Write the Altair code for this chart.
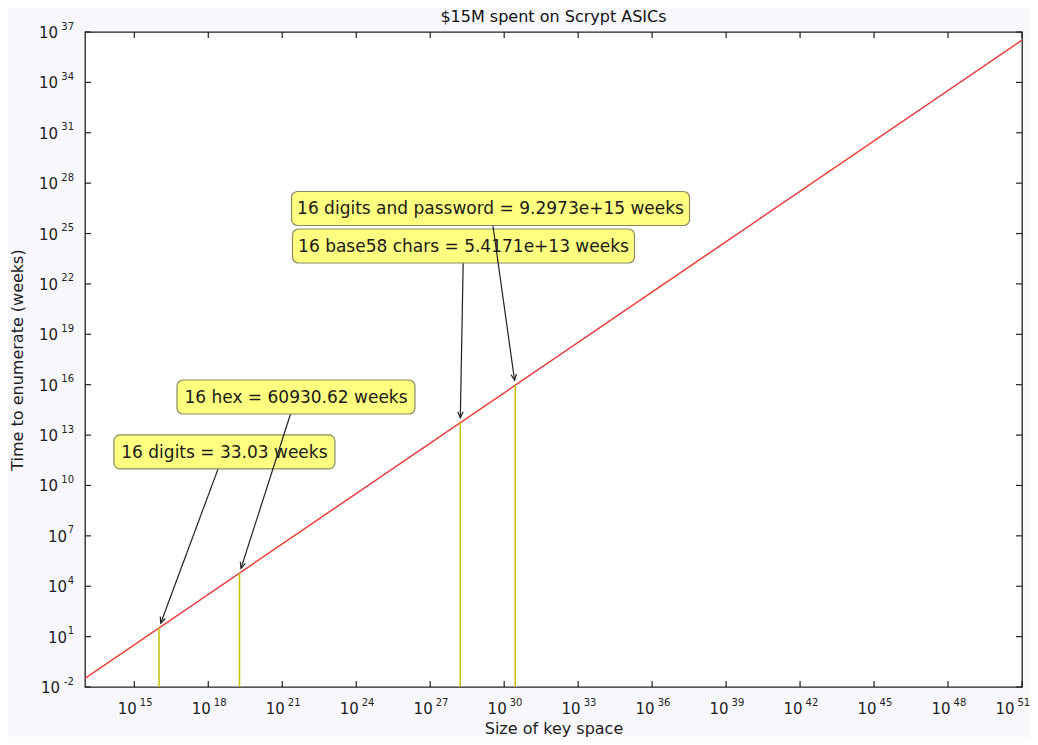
import math
import altair as alt
import pandas as pd

# ---------------- data ----------------
line_keys = [1e13, 1e51]
line_weeks = [0.033, 3.3e36]

ann_labels = [
    "16 digits = 33.03 weeks",
    "16 hex = 60930.62 weeks",
    "16 base58 chars = 5.4171e+13 weeks",
    "16 digits and password = 9.2973e+15 weeks",
]
ann_keys = [1e16, 1.8447e19, 1.6489e28, 2.8147e30]
ann_weeks = [33.03, 60930.62, 5.4171e13, 9.2973e15]
text_keys = [4.5e18, 3.6e21, 2.24e28, 2.79e29]
text_weeks = [1.0e12, 1.85e15, 1.81e24, 3.1e26]

x_tick_exp = [15, 18, 21, 24, 27, 30, 33, 36, 39, 42, 45, 48, 51]
y_tick_exp = [-2, 1, 4, 7, 10, 13, 16, 19, 22, 25, 28, 31, 34, 37]

# ---------------- layout ----------------
W, H = 937, 655
XDOM = [1e13, 1e51]
YDOM = [1e-2, 1e37]
FONT = "DejaVu Sans"
TICK = 6
SHRINK = 5
INK = "#1e1e1e"


def to_px(x, y):
    lx0, lx1 = math.log10(XDOM[0]), math.log10(XDOM[1])
    ly0, ly1 = math.log10(YDOM[0]), math.log10(YDOM[1])
    return ((math.log10(x) - lx0) / (lx1 - lx0) * W,
            H - (math.log10(y) - ly0) / (ly1 - ly0) * H)


def from_px(px, py):
    lx0, lx1 = math.log10(XDOM[0]), math.log10(XDOM[1])
    ly0, ly1 = math.log10(YDOM[0]), math.log10(YDOM[1])
    return (10 ** (lx0 + px / W * (lx1 - lx0)),
            10 ** (ly0 + (H - py) / H * (ly1 - ly0)))


rows = []
for i in range(4):
    sx, sy = to_px(text_keys[i], text_weeks[i])
    tx, ty = to_px(ann_keys[i], ann_weeks[i])
    dx, dy = tx - sx, ty - sy
    d = math.hypot(dx, dy)
    ex, ey = from_px(tx - dx / d * SHRINK, ty - dy / d * SHRINK)
    ang = math.degrees(math.atan2(-dx, dy)) % 360
    rows.append(dict(label=ann_labels[i], keys=ann_keys[i], weeks=ann_weeks[i],
                     tk=text_keys[i], tw=text_weeks[i], ek=ex, ew=ey, angle=ang, idx=i))
ann = pd.DataFrame(rows)

xs = alt.Scale(type="log", domain=XDOM)
ys = alt.Scale(type="log", domain=YDOM)
common_axis = dict(ticks=False, domain=False, grid=False, labels=False,
                   titleFontSize=16, titleFont=FONT, titleColor=INK,
                   titleFontWeight="normal")
xaxis = alt.Axis(title="Size of key space", values=[10.0 ** k for k in x_tick_exp],
                 titlePadding=33, **common_axis)
yaxis = alt.Axis(title="Time to enumerate (weeks)", values=[10.0 ** k for k in y_tick_exp],
                 titlePadding=60, **common_axis)


def X(f):
    return alt.X(f, type="quantitative", scale=xs, axis=xaxis)


def Y(f):
    return alt.Y(f, type="quantitative", scale=ys, axis=yaxis)


line_df = pd.DataFrame({"keys": line_keys, "weeks": line_weeks})
red = alt.Chart(line_df).mark_line(color="#ee3b3b", strokeWidth=1.5, clip=True).encode(
    x=X("keys"), y=Y("weeks"))

vlines = alt.Chart(ann).mark_rule(color="#c8c000", strokeWidth=1.5).encode(
    x=X("keys"), y=Y("weeks"), y2=alt.datum(0.01))


def arrows(sel):
    return alt.Chart(ann[ann.idx.isin(sel)]).mark_rule(color="#222", strokeWidth=1.2).encode(
        x=X("tk"), y=Y("tw"), x2="ek:Q", y2="ew:Q")


box_w = [221, 238, 342, 398]
box_h = [34, 34, 34, 34]


def box(i):
    return alt.Chart(ann[ann.idx == i]).mark_rect(
        fill="#ffff80", stroke="#8a8a62", strokeWidth=1.2, cornerRadius=6,
        xOffset=-box_w[i] / 2, x2Offset=box_w[i] / 2,
        yOffset=-box_h[i] / 2, y2Offset=box_h[i] / 2).encode(
        x=X("tk"), x2="tk:Q", y=Y("tw"), y2="tw:Q")


texts = alt.Chart(ann).mark_text(font=FONT, fontSize=17, color="#1a1a1a",
                                 align="center", baseline="middle", dy=1).encode(
    x=X("tk"), y=Y("tw"), text="label:N")

heads = alt.Chart(ann).mark_point(shape="M-0.45,-1 L0,0 L0.45,-1", filled=False, size=144,
                                  strokeWidth=1.2, color="#222", opacity=1).encode(
    x=X("ek"), y=Y("ew"), angle=alt.Angle("angle:Q", scale=None))

# ---- tick marks (inward, on all four sides) ----
xt = pd.DataFrame({"v": [10.0 ** k for k in x_tick_exp], "exp": [str(k) for k in x_tick_exp],
                   "last": [k == x_tick_exp[-1] for k in x_tick_exp]})
yt = pd.DataFrame({"v": [10.0 ** k for k in y_tick_exp], "exp": [str(k) for k in y_tick_exp],
                   "n": [len(str(k)) for k in y_tick_exp],
                   "neg": [k < 0 for k in y_tick_exp]})
tick_style = dict(color="#222", strokeWidth=1.2)
ticks_top = alt.Chart(xt).mark_rule(**tick_style).encode(x=X("v"), y=alt.value(0), y2=alt.value(TICK))
ticks_bot = alt.Chart(xt).mark_rule(**tick_style).encode(x=X("v"), y=alt.value(H), y2=alt.value(H - TICK))
ticks_left = alt.Chart(yt).mark_rule(**tick_style).encode(y=Y("v"), x=alt.value(0), x2=alt.value(TICK))
ticks_right = alt.Chart(yt).mark_rule(**tick_style).encode(y=Y("v"), x=alt.value(W), x2=alt.value(W - TICK))

# ---- tick labels: "10" with a raised, smaller exponent ----
lab = dict(font=FONT, color=INK)


def x_labels(cond, shift):
    base = alt.Chart(xt).transform_filter(cond).mark_text(
        fontSize=15, align="right", baseline="middle", dx=2.5 + shift, **lab).encode(
        x=X("v"), y=alt.value(H + 22), text=alt.value("10"))
    exp = alt.Chart(xt).transform_filter(cond).mark_text(
        fontSize=10, align="left", baseline="middle", dx=5.5 + shift, **lab).encode(
        x=X("v"), y=alt.value(H + 16), text="exp:N")
    return [base, exp]


y_exp = alt.Chart(yt).mark_text(fontSize=10, align="right", baseline="middle", dy=-5.5, **lab).encode(
    y=Y("v"), x=alt.value(-11), text="exp:N")


def y_base(cond, xpos):
    return alt.Chart(yt).transform_filter(cond).mark_text(
        fontSize=15, align="right", baseline="middle", dy=1, **lab).encode(
        y=Y("v"), x=alt.value(xpos), text=alt.value("10"))


y_base1 = y_base("datum.n == 1", -18)
y_base2 = y_base("datum.n == 2 && !datum.neg", -27)
y_base3 = y_base("datum.neg", -25)

chart = alt.layer(
    red, vlines,
    arrows([0, 2]), box(0), box(2),
    arrows([1, 3]), box(1), box(3),
    texts, heads,
    ticks_top, ticks_bot, ticks_left, ticks_right,
    *x_labels("!datum.last", 0), *x_labels("datum.last", -10),
    y_exp, y_base1, y_base2, y_base3,
).properties(
    width=W, height=H,
    title=alt.TitleParams("$15M spent on Scrypt ASICs", font=FONT, fontSize=16,
                          fontWeight="normal", color="#111", offset=-3, frame="group"),
    padding={"left": 77, "top": 24, "right": 8, "bottom": 50},
    autosize=alt.AutoSizeParams(type="none"),
    background="#f8f8fc",
).configure_view(stroke="#222", strokeWidth=1.3, fill="white")

chart.save("out.html", embed_options={"renderer": "svg", "actions": False})
